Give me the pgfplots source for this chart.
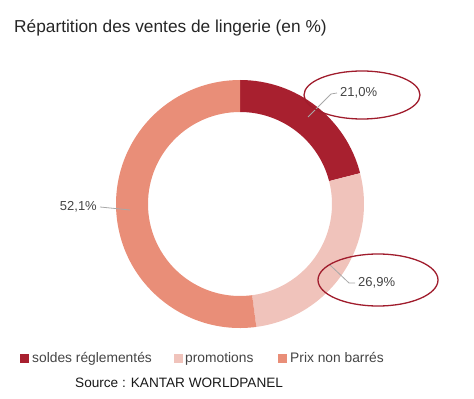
\documentclass[border=0pt]{standalone}
\usepackage{pgfplots}
\pgfplotsset{compat=1.18}
\usepackage{pgfplotstable}
\usepackage{fontspec}
\setmainfont{Liberation Sans}
\definecolor{cSoldes}{HTML}{A8202F}
\definecolor{cPromo}{HTML}{F0C3BB}
\definecolor{cPrix}{HTML}{E98E78}
\definecolor{cText}{HTML}{444444}
\definecolor{cLine}{HTML}{A8A8A8}
\definecolor{cEll}{HTML}{A01C2C}

\pgfplotstableread{
label value
soldes 21.0
promotions 26.9
prix 52.1
}\datatable

\begin{document}
\begin{tikzpicture}
\pgfplotstablegetelem{0}{value}\of\datatable \edef\va{\pgfplotsretval}
\pgfplotstablegetelem{1}{value}\of\datatable \edef\vb{\pgfplotsretval}
\pgfplotstablegetelem{2}{value}\of\datatable \edef\vc{\pgfplotsretval}
\pgfmathsetmacro{\aA}{90}
\pgfmathsetmacro{\aB}{90-3.6*\va}
\pgfmathsetmacro{\aC}{\aB-3.6*\vb}
\pgfmathsetmacro{\aD}{\aC-3.6*\vc}
\begin{axis}[
  width=474pt, height=399pt, scale only axis,
  xmin=0, xmax=474, ymin=0, ymax=399,
  hide axis, clip=false,
]
% donut: centre (240,195), R=124, r=92
\def\cx{240}\def\cy{195}\def\R{124}\def\r{92}
\edef\doit{%
\noexpand\fill[cSoldes] ([shift={(axis cs:\cx,\cy)}]\aA:\R) arc[start angle=\aA,end angle=\aB,radius=\R] -- ([shift={(axis cs:\cx,\cy)}]\aB:\r) arc[start angle=\aB,end angle=\aA,radius=\r] -- cycle;
\noexpand\fill[cPromo] ([shift={(axis cs:\cx,\cy)}]\aB:\R) arc[start angle=\aB,end angle=\aC,radius=\R] -- ([shift={(axis cs:\cx,\cy)}]\aC:\r) arc[start angle=\aC,end angle=\aB,radius=\r] -- cycle;
\noexpand\fill[cPrix] ([shift={(axis cs:\cx,\cy)}]\aC:\R) arc[start angle=\aC,end angle=\aD,radius=\R] -- ([shift={(axis cs:\cx,\cy)}]\aD:\r) arc[start angle=\aD,end angle=\aC,radius=\r] -- cycle;
\noexpand\draw[white, line width=1.2pt] ([shift={(axis cs:\cx,\cy)}]\aA:\r-1) -- ([shift={(axis cs:\cx,\cy)}]\aA:\R+1);
\noexpand\draw[white, line width=1.2pt] ([shift={(axis cs:\cx,\cy)}]\aB:\r-1) -- ([shift={(axis cs:\cx,\cy)}]\aB:\R+1);
\noexpand\draw[white, line width=1.2pt] ([shift={(axis cs:\cx,\cy)}]\aC:\r-1) -- ([shift={(axis cs:\cx,\cy)}]\aC:\R+1);
}
\doit
% frame for bounding box
\path (axis cs:0,0) rectangle (axis cs:474,399);
% title
\node[anchor=base west, font=\fontsize{17.3}{19}\selectfont, text=black!85, inner sep=0] at (axis cs:14,366) {Répartition des ventes de lingerie (en \%)};
% leader lines and labels
\draw[cLine, line width=0.8pt] (axis cs:308,282) -- (axis cs:331,305) -- (axis cs:337,306);
\node[anchor=west, font=\fontsize{13}{15}\selectfont, text=cText, inner sep=0] at (axis cs:340,306) {21,0\%};
\draw[cLine, line width=0.8pt] (axis cs:330,134) -- (axis cs:349,116) -- (axis cs:355,116);
\node[anchor=west, font=\fontsize{13}{15}\selectfont, text=cText, inner sep=0] at (axis cs:358,116) {26,9\%};
\draw[cLine, line width=0.8pt] (axis cs:100,192) -- (axis cs:130,189);
\node[anchor=east, font=\fontsize{13}{15}\selectfont, text=cText, inner sep=0] at (axis cs:97,192) {52,1\%};
% ellipses
\draw[cEll, line width=1.3pt] (axis cs:362,304) ellipse[x radius=58, y radius=24];
\draw[cEll, line width=1.3pt] (axis cs:378,119) ellipse[x radius=60, y radius=26];
% legend
\fill[cSoldes] (axis cs:20,36) rectangle (axis cs:29,45);
\node[anchor=base west, font=\fontsize{13.8}{15}\selectfont, text=cText, inner sep=0] at (axis cs:32,36) {soldes réglementés};
\fill[cPromo] (axis cs:174,36) rectangle (axis cs:183,45);
\node[anchor=base west, font=\fontsize{13.8}{15}\selectfont, text=cText, inner sep=0] at (axis cs:185,36) {promotions};
\fill[cPrix] (axis cs:278,36) rectangle (axis cs:287,45);
\node[anchor=base west, font=\fontsize{13.8}{15}\selectfont, text=cText, inner sep=0] at (axis cs:290,36) {Prix non barrés};
\node[anchor=base west, font=\fontsize{13.6}{15}\selectfont, text=black!90, inner sep=0] at (axis cs:75,12) {Source : KANTAR WORLDPANEL};
\end{axis}
\end{tikzpicture}
\end{document}
